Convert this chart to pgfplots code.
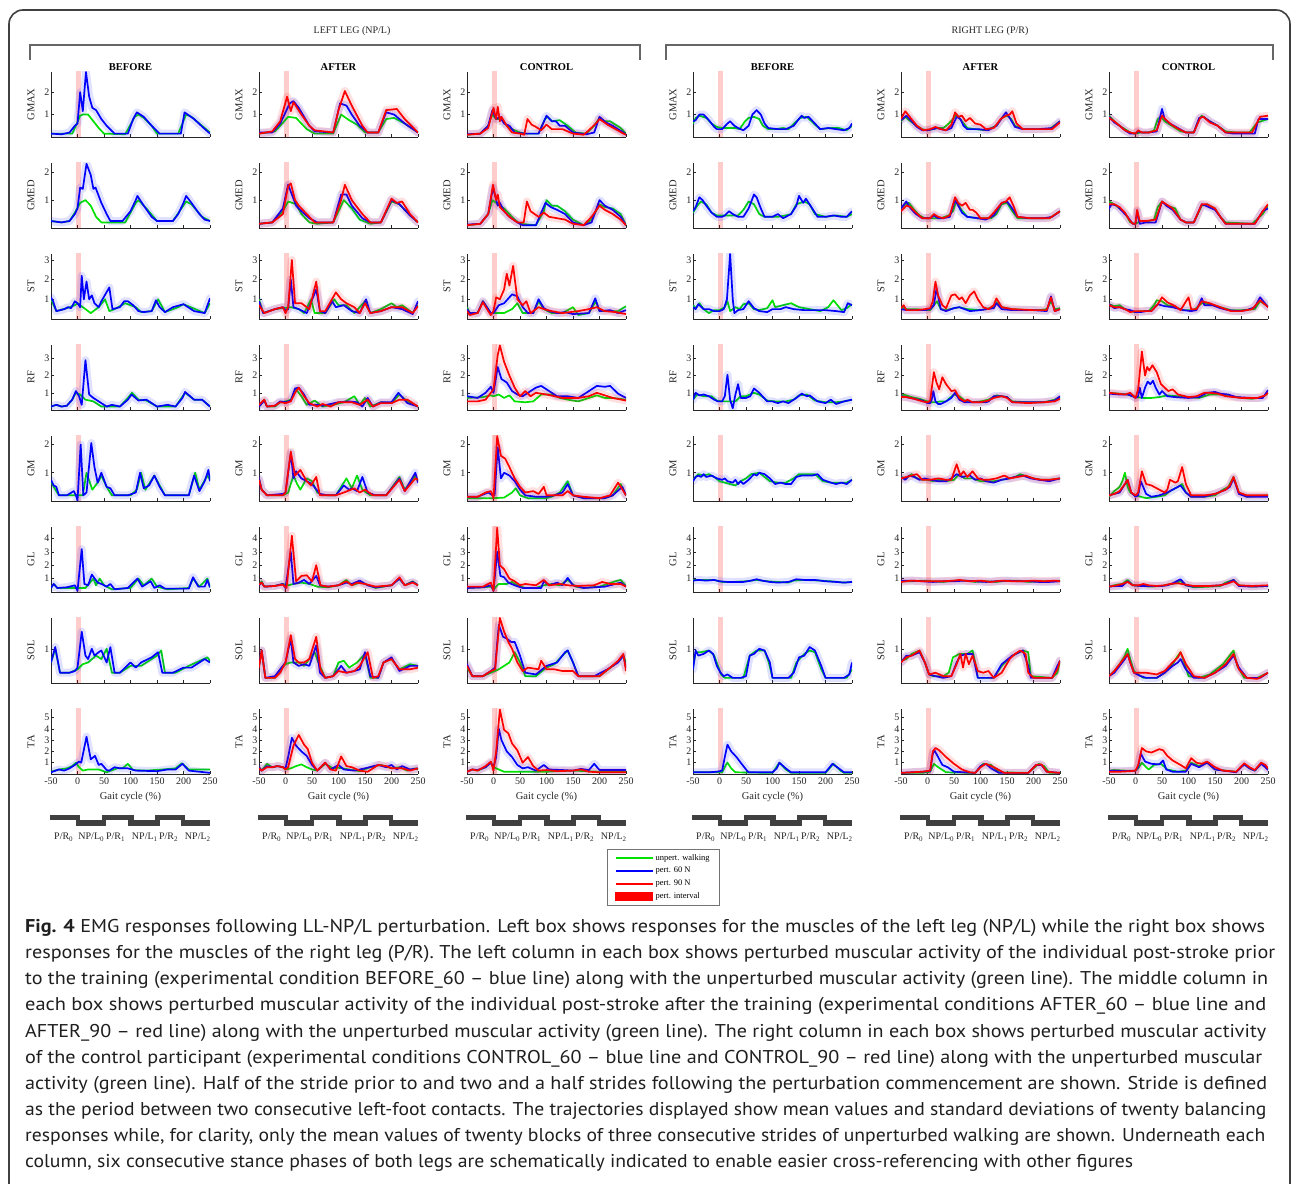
\documentclass[border=0pt]{standalone}
\usepackage{fontspec}
\setmainfont{Liberation Serif}
\newfontfamily\capfont{PT Sans}
\usepackage{graphicx}
\usepackage{pgfplots}
\pgfplotsset{compat=1.18}
\definecolor{cg}{RGB}{0,225,0}
\definecolor{cb}{RGB}{0,0,255}
\definecolor{cr}{RGB}{255,0,0}
\definecolor{axc}{RGB}{38,38,38}
\definecolor{barc}{RGB}{64,64,64}
\pgfplotsset{
  ln/.style={draw=#1, line width=1.7pt, line join=round},
  bd/.style={draw=#1, line width=8pt, draw opacity=0.12, line join=round, line cap=round},
  emg/.style={width=159pt, height=65pt, scale only axis, anchor=south west,
    xmin=-50, xmax=250, axis x line*=bottom, axis y line*=left,
    axis line style={-, line width=0.6pt, draw=axc},
    xtick={-50,0,...,250}, xticklabels={}, tick align=inside, major tick length=2.5pt,
    every tick/.style={axc, line width=0.5pt},
    /pgf/number format/assume math mode=true,
    tick label style={font=\fontsize{10}{10}\selectfont, text=axc},
    yticklabel style={inner sep=1.5pt},
    ylabel style={font=\fontsize{10.5}{11}\selectfont, text=axc, at={(axis description cs:-0.126,0.5)}, anchor=center},
    every axis title shift=0pt,
    title style={font=\bfseries\fontsize{10.5}{11}\selectfont, text=black, at={(0.5,1)}, anchor=south, inner sep=1.5pt, yshift=0pt},
    xlabel style={font=\fontsize{10.5}{11}\selectfont, text=axc, inner sep=1pt, yshift=-3pt},
    clip=true},
  rGMAX/.style={ymin=0,ymax=2.9,ytick={1,2},ylabel={GMAX}},
  rGMED/.style={ymin=0,ymax=2.33,ytick={1,2},ylabel={GMED}},
  rST/.style={ymin=0,ymax=3.3,ytick={1,2,3},ylabel={ST}},
  rRF/.style={ymin=0,ymax=3.78,ytick={1,2,3},ylabel={RF}},
  rGM/.style={ymin=0,ymax=2.3,ytick={1,2},ylabel={GM}},
  rGL/.style={ymin=0,ymax=4.85,ytick={1,2,3,4},ylabel={GL}},
  rSOL/.style={ymin=0,ymax=1.9,ytick={1},ylabel={SOL}},
  rTA/.style={ymin=0,ymax=5.75,ytick={1,2,3,4,5},ylabel={TA},
    xticklabels={-50,0,50,100,150,200,250}, xlabel={Gait cycle (\%)}},
  gait/.style={width=159pt, height=11pt, scale only axis, anchor=south west,
    xmin=-50, xmax=250, ymin=0, ymax=2, hide axis, clip=false},
}
\newcommand{\pert}{\addplot[fill=cr, fill opacity=0.2, draw=none] coordinates {(-2.5,-1)(7,-1)(7,10)(-2.5,10)};}
\newcommand{\Gs}[1]{\addplot[ln=cg] coordinates {#1};}
\newcommand{\Bs}[1]{\addplot[bd=cb] coordinates {#1};\addplot[ln=cb] coordinates {#1};}
\newcommand{\Rs}[1]{\addplot[bd=cr] coordinates {#1};\addplot[ln=cr] coordinates {#1};}
\newcommand{\gaitbars}{%
  \addplot[fill=barc, draw=none] coordinates {(-52,1)(5,1)(5,2)(-52,2)};
  \addplot[fill=barc, draw=none] coordinates {(46,1)(107,1)(107,2)(46,2)};
  \addplot[fill=barc, draw=none] coordinates {(146,1)(203,1)(203,2)(146,2)};
  \addplot[fill=barc, draw=none] coordinates {(-3,0)(54,0)(54,1)(-3,1)};
  \addplot[fill=barc, draw=none] coordinates {(95,0)(156,0)(156,1)(95,1)};
  \addplot[fill=barc, draw=none] coordinates {(195,0)(250,0)(250,1)(195,1)};
  \node[font=\fontsize{10}{10}\selectfont, text=axc] at (axis cs:-26,-2.0) {P/R\textsubscript{0}};
  \node[font=\fontsize{10}{10}\selectfont, text=axc] at (axis cs:26,-2.0) {NP/L\textsubscript{0}};
  \node[font=\fontsize{10}{10}\selectfont, text=axc] at (axis cs:72,-2.0) {P/R\textsubscript{1}};
  \node[font=\fontsize{10}{10}\selectfont, text=axc] at (axis cs:127,-2.0) {NP/L\textsubscript{1}};
  \node[font=\fontsize{10}{10}\selectfont, text=axc] at (axis cs:172,-2.0) {P/R\textsubscript{2}};
  \node[font=\fontsize{10}{10}\selectfont, text=axc] at (axis cs:227,-2.0) {NP/L\textsubscript{2}};
}
\newcommand{\capline}[3]{\node at (25pt,#1pt) {\resizebox{#2pt}{\height}{#3}};}
\begin{document}
\begin{tikzpicture}
\useasboundingbox (0pt,0pt) rectangle (1292pt,1183pt);
\fill[white] (0pt,0pt) rectangle (1292pt,1183pt);
\draw[line width=1.6pt, draw=black!75, rounded corners=14pt] (9pt,-20pt) -- (9pt,1173pt) -- (1290pt,1173pt) -- (1290pt,-20pt);
\node[font=\fontsize{10}{12}\selectfont, text=axc] at (352pt,1152pt) {LEFT LEG (NP/L)};
\node[font=\fontsize{10}{12}\selectfont, text=axc] at (990pt,1152pt) {RIGHT LEG (P/R)};
\draw[line width=1.2pt, draw=black!60] (30pt,1123pt) -- (30pt,1138pt) -- (640pt,1138pt) -- (640pt,1123pt);
\draw[line width=1.2pt, draw=black!60] (666pt,1123pt) -- (666pt,1138pt) -- (1273pt,1138pt) -- (1273pt,1123pt);

%================ COLUMN 1 : LEFT BEFORE
\begin{axis}[emg,rGMAX,at={(51pt,1046pt)},title={BEFORE}]
\pert
\Gs{(-50,0.15)(-10,0.15)(-3,0.5)(5,0.95)(10,1.0)(20,1.0)(25,0.85)(40,0.4)(50,0.15)(90,0.12)(108,0.9)(115,1.0)(125,0.85)(140,0.5)(150,0.15)(190,0.15)(205,1.0)(215,0.9)(235,0.5)(250,0.2)}
\Bs{(-50,0.15)(-30,0.12)(-15,0.2)(-5,0.5)(0,0.6)(5,2.0)(10,1.15)(16,2.9)(22,1.8)(28,1.3)(35,1.2)(45,0.8)(55,0.5)(70,0.15)(95,0.15)(105,0.8)(112,1.1)(125,0.9)(140,0.5)(155,0.15)(195,0.15)(202,1.1)(220,0.8)(238,0.4)(250,0.15)}
\end{axis}
\begin{axis}[emg,rGMED,at={(51pt,955pt)}]
\pert
\Gs{(-50,0.25)(-30,0.2)(-15,0.25)(-5,0.55)(5,0.9)(15,1.0)(25,0.8)(35,0.4)(45,0.2)(90,0.2)(110,0.9)(115,1.0)(130,0.7)(150,0.25)(180,0.25)(205,0.95)(215,0.85)(235,0.4)(250,0.25)}
\Bs{(-50,0.25)(-30,0.2)(-15,0.25)(-5,0.5)(0,0.7)(5,1.45)(10,1.4)(17,2.3)(25,1.9)(30,1.4)(34,1.45)(45,0.9)(55,0.5)(62,0.25)(85,0.25)(100,0.6)(110,1.0)(113,1.15)(125,0.8)(140,0.4)(150,0.25)(180,0.25)(190,0.5)(200,0.9)(205,1.15)(215,0.9)(230,0.5)(240,0.3)(250,0.25)}
\end{axis}
\begin{axis}[emg,rST,at={(51pt,864pt)}]
\pert
\Gs{(-50,1.0)(-40,0.4)(-20,0.55)(-5,0.7)(0,0.8)(15,0.5)(25,0.3)(40,0.6)(52,1.0)(60,0.4)(70,0.5)(90,0.8)(110,0.6)(120,0.35)(140,0.4)(152,1.0)(165,0.35)(190,0.6)(200,0.75)(240,0.3)(250,0.8)}
\Bs{(-50,1.1)(-46,0.9)(-40,0.4)(-25,0.5)(-18,0.6)(-12,0.55)(-5,0.9)(0,0.8)(5,0.6)(8,2.2)(12,1.0)(17,1.9)(22,1.0)(27,1.2)(32,0.8)(40,0.6)(45,0.9)(60,1.6)(66,0.5)(80,0.6)(88,0.9)(95,0.9)(105,0.7)(115,0.4)(125,0.35)(140,0.4)(148,0.95)(155,0.6)(165,0.35)(180,0.6)(200,0.75)(220,0.4)(240,0.3)(250,1.05)}
\end{axis}
\begin{axis}[emg,rRF,at={(51pt,773pt)}]
\pert
\Gs{(-50,0.2)(-40,0.3)(-30,0.2)(-20,0.25)(-10,0.6)(-3,1.0)(5,0.9)(15,0.6)(30,0.5)(45,0.2)(80,0.2)(95,0.7)(103,1.0)(115,0.6)(130,0.55)(150,0.2)(185,0.2)(203,1.0)(220,0.6)(235,0.6)(250,0.2)}
\Bs{(-50,0.2)(-40,0.3)(-30,0.2)(-20,0.25)(-10,0.6)(-3,1.1)(3,0.8)(8,0.3)(15,2.9)(22,0.9)(30,0.7)(40,0.5)(55,0.2)(65,0.3)(80,0.2)(95,0.6)(102,0.9)(115,0.55)(130,0.6)(150,0.2)(170,0.3)(185,0.2)(198,0.7)(203,1.05)(220,0.6)(235,0.6)(250,0.2)}
\end{axis}
\begin{axis}[emg,rGM,at={(51pt,682pt)}]
\pert
\Gs{(-50,0.7)(-45,0.5)(-35,0.2)(0,0.2)(10,0.2)(17,1.0)(28,0.4)(40,0.7)(45,0.9)(55,0.5)(65,0.2)(100,0.2)(112,0.4)(120,1.0)(128,0.4)(145,0.9)(165,0.2)(210,0.2)(222,1.0)(230,0.4)(245,0.9)(250,0.75)}
\Bs{(-50,0.75)(-45,0.55)(-40,0.5)(-35,0.2)(-20,0.2)(-7,0.35)(-3,0.2)(0,0.02)(6,2.0)(11,0.2)(17,0.3)(26,2.05)(32,1.2)(38,0.65)(45,1.0)(55,0.5)(62,0.45)(70,0.2)(95,0.2)(110,0.3)(118,1.0)(125,0.45)(135,0.55)(145,0.9)(155,0.5)(165,0.2)(210,0.2)(220,0.9)(230,0.35)(240,0.7)(247,1.1)(250,0.7)}
\end{axis}
\begin{axis}[emg,rGL,at={(51pt,591pt)}]
\pert
\Gs{(-50,0.3)(-45,0.6)(-38,0.3)(0,0.3)(15,0.3)(30,1.0)(35,0.5)(42,1.0)(50,0.5)(65,0.2)(100,0.3)(115,1.0)(125,0.5)(140,1.0)(150,0.4)(170,0.2)(210,0.3)(218,1.0)(230,0.4)(245,1.0)(250,0.35)}
\Bs{(-50,0.3)(-45,0.6)(-38,0.3)(-20,0.35)(-5,0.5)(0,0.1)(8,3.2)(13,0.6)(20,0.5)(27,1.3)(38,0.7)(45,0.6)(55,0.4)(62,0.6)(70,0.2)(95,0.3)(113,1.0)(122,0.4)(138,0.8)(145,0.3)(155,0.5)(165,0.25)(210,0.25)(218,1.1)(228,0.4)(240,0.4)(245,0.9)(250,0.35)}
\end{axis}
\begin{axis}[emg,rSOL,at={(51pt,500pt)}]
\pert
\Gs{(-50,0.6)(-42,1.0)(-33,0.3)(-15,0.3)(0,0.4)(10,0.55)(20,0.6)(35,0.8)(45,0.7)(55,1.0)(65,0.3)(80,0.3)(100,0.5)(120,0.5)(150,0.8)(158,0.95)(165,0.3)(185,0.3)(210,0.5)(245,0.75)(250,0.65)}
\Bs{(-50,0.6)(-42,1.05)(-33,0.3)(-15,0.3)(-5,0.35)(0,0.45)(8,1.5)(15,0.8)(20,0.7)(27,1.0)(32,0.8)(40,0.9)(45,0.95)(55,0.6)(62,1.05)(70,0.3)(80,0.3)(90,0.45)(100,0.6)(110,0.45)(120,0.6)(140,0.75)(152,0.9)(160,0.3)(180,0.3)(200,0.45)(215,0.45)(240,0.7)(250,0.6)}
\end{axis}
\begin{axis}[emg,rTA,at={(51pt,409pt)}]
\pert
\Gs{(-50,0.2)(-35,0.4)(-20,0.5)(-10,0.7)(-3,1.0)(3,0.6)(10,0.3)(20,0.4)(40,0.4)(55,0.15)(75,0.5)(85,0.5)(95,0.9)(105,0.35)(130,0.3)(160,0.4)(185,0.5)(197,0.95)(210,0.4)(250,0.4)}
\Bs{(-50,0.15)(-35,0.4)(-25,0.3)(-15,0.5)(-5,0.8)(3,1.1)(7,1.0)(17,3.3)(25,1.3)(33,1.6)(40,0.8)(45,0.9)(55,0.35)(60,0.3)(70,0.6)(80,0.5)(95,0.5)(110,0.3)(150,0.25)(170,0.4)(185,0.4)(198,0.9)(210,0.3)(230,0.2)(250,0.1)}
\end{axis}

%================ COLUMN 2 : LEFT AFTER
\begin{axis}[emg,rGMAX,at={(259pt,1046pt)},title={AFTER}]
\pert
\Gs{(-50,0.15)(-20,0.25)(-10,0.5)(5,0.9)(20,0.85)(30,0.6)(40,0.35)(55,0.15)(90,0.15)(105,1.0)(120,0.75)(135,0.55)(150,0.2)(175,0.2)(190,0.8)(205,0.85)(225,0.6)(250,0.2)}
\Bs{(-50,0.2)(-25,0.2)(-10,0.6)(2,1.2)(8,1.5)(15,1.6)(25,1.3)(35,0.9)(45,0.5)(55,0.25)(90,0.2)(103,1.5)(115,1.4)(125,1.0)(140,0.5)(155,0.2)(175,0.2)(190,1.1)(205,1.0)(225,0.6)(250,0.2)}
\Rs{(-50,0.15)(-25,0.25)(-10,0.7)(3,1.8)(10,1.15)(15,1.55)(30,1.0)(45,0.5)(55,0.3)(90,0.2)(100,1.2)(112,2.05)(125,1.4)(145,0.5)(155,0.2)(175,0.2)(190,1.2)(210,1.25)(225,0.8)(250,0.2)}
\end{axis}
\begin{axis}[emg,rGMED,at={(259pt,955pt)}]
\pert
\Gs{(-50,0.15)(-25,0.2)(-5,0.6)(5,0.95)(20,0.85)(30,0.5)(45,0.2)(60,0.15)(90,0.2)(110,1.0)(125,0.7)(140,0.3)(160,0.15)(180,0.2)(200,0.95)(215,0.85)(235,0.45)(250,0.2)}
\Bs{(-50,0.15)(-25,0.2)(-5,0.7)(5,1.55)(12,1.2)(20,0.8)(30,0.6)(45,0.35)(60,0.2)(90,0.2)(105,1.2)(115,1.2)(125,0.8)(145,0.35)(160,0.2)(180,0.2)(200,1.0)(215,0.85)(235,0.45)(250,0.2)}
\Rs{(-50,0.15)(-25,0.2)(-5,0.5)(5,1.5)(10,1.6)(18,1.0)(25,0.8)(40,0.5)(55,0.2)(90,0.2)(105,1.0)(112,1.55)(125,1.0)(145,0.5)(160,0.2)(180,0.2)(200,1.05)(210,0.9)(220,0.95)(235,0.5)(250,0.2)}
\end{axis}
\begin{axis}[emg,rST,at={(259pt,864pt)}]
\pert
\Gs{(-50,1.0)(-42,0.3)(-20,0.5)(-5,0.55)(10,0.6)(25,0.5)(35,0.3)(48,1.0)(55,0.3)(75,0.3)(92,1.0)(100,0.7)(115,0.7)(130,0.3)(150,0.9)(160,0.3)(180,0.5)(200,0.8)(210,0.6)(220,0.7)(240,0.3)(250,0.7)}
\Bs{(-50,0.9)(-42,0.3)(-20,0.5)(-5,0.6)(0,0.45)(5,0.5)(10,2.0)(15,0.6)(25,0.5)(40,0.3)(58,1.5)(65,0.4)(75,0.3)(88,0.9)(95,0.6)(110,0.7)(125,0.4)(140,0.3)(152,1.0)(160,0.3)(180,0.4)(200,0.6)(220,0.5)(240,0.25)(250,0.9)}
\Rs{(-50,0.7)(-40,0.3)(-20,0.5)(-5,0.6)(0,0.3)(5,0.6)(12,3.0)(18,0.8)(30,0.8)(45,0.5)(58,1.9)(65,0.4)(75,0.4)(95,1.35)(105,1.0)(115,0.8)(130,0.6)(140,0.3)(150,0.8)(160,0.3)(180,0.4)(200,0.6)(220,0.6)(240,0.3)(250,0.65)}
\end{axis}
\begin{axis}[emg,rRF,at={(259pt,773pt)}]
\pert
\Gs{(-50,0.2)(-40,0.6)(-35,0.2)(-20,0.2)(-10,0.45)(0,0.5)(10,0.6)(20,1.2)(30,0.8)(40,0.3)(55,0.55)(70,0.2)(90,0.3)(110,0.45)(130,0.8)(140,0.3)(150,0.7)(160,0.2)(180,0.45)(200,0.4)(215,0.9)(230,0.5)(250,0.2)}
\Bs{(-50,0.2)(-40,0.55)(-35,0.2)(-20,0.25)(-10,0.5)(0,0.45)(10,0.55)(18,1.25)(25,1.3)(35,0.9)(45,0.3)(60,0.3)(70,0.25)(100,0.45)(120,0.5)(135,0.45)(145,0.2)(155,0.7)(165,0.2)(180,0.45)(200,0.45)(213,1.0)(230,0.4)(250,0.2)}
\Rs{(-50,0.3)(-40,0.6)(-35,0.2)(-20,0.25)(-10,0.45)(0,0.4)(10,0.5)(18,1.0)(25,1.3)(35,0.8)(45,0.4)(60,0.2)(70,0.35)(85,0.2)(100,0.45)(125,0.45)(140,0.3)(155,0.6)(165,0.2)(180,0.4)(200,0.4)(215,0.6)(230,0.6)(250,0.2)}
\end{axis}
\begin{axis}[emg,rGM,at={(259pt,682pt)}]
\pert
\Gs{(-50,0.8)(-45,0.4)(-35,0.2)(-5,0.2)(5,0.3)(15,0.9)(22,0.6)(28,0.4)(40,0.8)(50,0.7)(60,0.3)(70,0.2)(95,0.2)(115,0.8)(125,0.45)(135,0.9)(145,0.4)(160,0.2)(190,0.2)(215,0.85)(225,0.4)(245,0.9)(250,0.7)}
\Bs{(-50,0.8)(-45,0.4)(-35,0.2)(-5,0.25)(0,0.3)(10,1.7)(15,0.8)(20,1.05)(30,0.8)(40,0.7)(50,0.6)(65,0.25)(80,0.2)(95,0.2)(110,0.55)(120,0.4)(125,0.45)(135,0.35)(145,0.85)(155,0.3)(170,0.2)(190,0.2)(215,0.8)(225,0.35)(245,1.0)(250,0.65)}
\Rs{(-50,0.75)(-45,0.4)(-35,0.2)(-5,0.2)(0,0.3)(10,1.75)(18,0.9)(28,1.1)(40,0.7)(48,0.55)(58,0.85)(65,0.2)(95,0.2)(110,0.3)(130,0.45)(140,0.3)(150,0.4)(165,0.2)(190,0.2)(215,0.75)(225,0.35)(245,0.8)(250,0.75)}
\end{axis}
\begin{axis}[emg,rGL,at={(259pt,591pt)}]
\pert
\Gs{(-50,0.5)(-45,0.8)(-40,0.4)(-20,0.45)(-5,0.6)(5,0.5)(15,0.6)(30,0.7)(45,0.6)(60,0.4)(80,0.35)(100,0.5)(115,0.9)(125,0.5)(140,0.7)(150,0.6)(170,0.3)(200,0.5)(215,1.0)(225,0.5)(240,0.8)(250,0.5)}
\Bs{(-50,0.5)(-45,0.7)(-40,0.4)(-20,0.45)(-5,0.6)(0,0.3)(10,3.0)(15,0.6)(25,0.7)(35,0.9)(45,0.6)(58,1.2)(65,0.5)(80,0.4)(100,0.5)(115,0.7)(125,0.6)(140,0.85)(155,0.5)(170,0.35)(200,0.5)(215,1.0)(225,0.5)(240,0.75)(250,0.5)}
\Rs{(-50,0.55)(-45,0.7)(-40,0.4)(-20,0.45)(-5,0.55)(2,0.3)(12,4.2)(20,0.8)(30,1.2)(40,1.25)(50,0.8)(58,2.0)(66,0.5)(80,0.4)(100,0.5)(115,0.8)(125,0.5)(135,0.7)(150,0.6)(170,0.4)(200,0.5)(215,1.1)(225,0.5)(240,0.7)(250,0.5)}
\end{axis}
\begin{axis}[emg,rSOL,at={(259pt,500pt)}]
\pert
\Gs{(-50,0.5)(-45,0.95)(-38,0.15)(-20,0.15)(-10,0.4)(0,0.55)(10,0.6)(25,0.6)(35,0.5)(45,0.7)(55,0.9)(62,0.6)(75,0.15)(90,0.2)(100,0.6)(110,0.65)(120,0.45)(135,0.6)(150,0.85)(160,0.15)(175,0.15)(185,0.6)(200,0.7)(215,0.4)(235,0.55)(250,0.5)}
\Bs{(-50,0.5)(-45,0.95)(-38,0.15)(-20,0.2)(-10,0.4)(0,0.6)(10,1.3)(15,0.6)(25,0.5)(35,0.55)(45,0.5)(58,1.1)(65,0.3)(75,0.15)(90,0.2)(105,0.5)(115,0.3)(130,0.35)(140,0.4)(150,0.9)(160,0.2)(175,0.15)(185,0.6)(200,0.75)(215,0.35)(235,0.5)(250,0.5)}
\Rs{(-50,0.45)(-45,0.95)(-38,0.15)(-20,0.15)(-10,0.3)(0,0.6)(10,1.4)(18,0.7)(25,0.6)(35,0.6)(45,0.7)(58,1.35)(66,0.4)(75,0.15)(90,0.2)(100,0.35)(115,0.3)(130,0.35)(140,0.5)(155,0.9)(165,0.15)(175,0.2)(185,0.6)(200,0.7)(215,0.4)(235,0.4)(250,0.45)}
\end{axis}
\begin{axis}[emg,rTA,at={(259pt,409pt)}]
\pert
\Gs{(-50,0.6)(-45,0.3)(-35,0.9)(-25,0.6)(-15,0.7)(-5,0.6)(0,0.4)(10,0.5)(20,0.7)(30,0.85)(40,0.6)(50,0.4)(60,0.3)(75,0.9)(90,0.5)(100,0.55)(120,0.4)(140,0.25)(160,0.6)(170,0.7)(180,0.8)(200,0.5)(215,0.6)(230,0.3)(245,0.5)(250,0.4)}
\Bs{(-50,0.6)(-45,0.3)(-35,0.7)(-25,0.6)(-15,0.7)(-5,0.6)(0,0.5)(5,1.5)(12,3.2)(20,2.5)(30,2.0)(40,1.6)(50,0.8)(60,0.3)(75,1.0)(85,0.4)(100,0.8)(110,0.4)(130,0.3)(150,0.5)(175,0.8)(190,0.6)(200,0.8)(210,0.4)(220,0.7)(235,0.4)(250,0.5)}
\Rs{(-50,0.5)(-45,0.3)(-35,0.6)(-25,0.6)(-15,0.7)(-5,0.6)(0,0.4)(5,0.6)(15,2.5)(25,3.45)(35,2.6)(42,2.2)(50,1.0)(60,0.3)(75,1.0)(85,0.4)(95,0.3)(105,1.55)(115,0.7)(125,0.6)(140,0.3)(155,0.2)(175,0.8)(190,0.7)(200,0.5)(220,0.5)(235,0.3)(250,0.5)}
\end{axis}

%================ COLUMN 3 : LEFT CONTROL
\begin{axis}[emg,rGMAX,at={(467pt,1046pt)},title={CONTROL}]
\pert
\Gs{(-50,0.1)(-25,0.15)(-10,0.5)(-3,1.0)(5,0.8)(15,0.8)(25,0.5)(35,0.35)(50,0.2)(60,0.15)(85,0.15)(97,0.8)(102,0.9)(110,0.7)(125,0.75)(140,0.5)(155,0.2)(175,0.15)(190,0.5)(200,0.85)(210,0.7)(220,0.7)(240,0.4)(250,0.15)}
\Bs{(-50,0.12)(-25,0.15)(-10,0.5)(-2,1.2)(5,0.8)(12,0.9)(20,0.6)(30,0.5)(40,0.2)(60,0.15)(85,0.15)(100,0.95)(110,0.7)(118,0.7)(125,0.5)(135,0.5)(150,0.2)(175,0.12)(190,0.2)(200,0.9)(212,0.65)(225,0.5)(245,0.2)(250,0.1)}
\Rs{(-50,0.1)(-25,0.15)(-10,0.4)(0,1.3)(5,0.8)(8,1.35)(12,0.7)(15,0.9)(25,0.5)(35,0.2)(50,0.15)(58,0.1)(64,0.8)(72,0.55)(80,0.45)(90,0.3)(100,0.55)(110,0.35)(130,0.35)(150,0.15)(170,0.1)(180,0.3)(195,0.65)(200,0.8)(215,0.55)(230,0.35)(245,0.15)(250,0.1)}
\end{axis}
\begin{axis}[emg,rGMED,at={(467pt,955pt)}]
\pert
\Gs{(-50,0.1)(-25,0.15)(-10,0.5)(-2,1.0)(5,0.9)(12,0.8)(20,0.7)(30,0.5)(40,0.3)(50,0.15)(80,0.1)(95,0.6)(100,1.0)(110,0.8)(120,0.8)(135,0.6)(150,0.3)(170,0.1)(185,0.3)(200,0.85)(210,0.75)(225,0.7)(240,0.5)(250,0.1)}
\Bs{(-50,0.12)(-25,0.15)(-10,0.5)(-1,1.45)(8,0.8)(12,0.9)(20,0.6)(30,0.4)(45,0.2)(55,0.1)(80,0.1)(98,0.9)(108,0.75)(120,0.65)(135,0.5)(150,0.2)(170,0.1)(185,0.2)(200,1.0)(210,0.8)(225,0.65)(240,0.4)(250,0.1)}
\Rs{(-50,0.1)(-25,0.15)(-10,0.5)(-1,1.55)(5,1.0)(8,1.2)(12,0.75)(20,0.6)(30,0.4)(45,0.2)(57,0.2)(63,0.95)(70,0.6)(85,0.4)(95,0.55)(105,0.4)(120,0.35)(135,0.3)(150,0.15)(170,0.1)(185,0.4)(200,0.8)(210,0.65)(225,0.5)(240,0.3)(250,0.1)}
\end{axis}
\begin{axis}[emg,rST,at={(467pt,864pt)}]
\pert
\Gs{(-50,0.6)(-45,0.3)(-30,0.3)(-20,0.9)(-10,0.5)(-5,0.3)(20,0.3)(35,0.5)(45,0.8)(55,0.3)(75,0.3)(85,0.9)(95,0.5)(110,0.3)(130,0.3)(140,0.45)(150,0.6)(160,0.2)(180,0.3)(193,0.9)(200,0.4)(215,0.4)(235,0.4)(250,0.65)}
\Bs{(-50,0.5)(-45,0.3)(-30,0.3)(-20,0.9)(-10,0.5)(-5,0.3)(0,0.3)(10,0.7)(20,0.8)(30,1.1)(35,1.25)(45,1.15)(55,0.6)(65,0.3)(75,0.3)(85,1.0)(95,0.55)(105,0.4)(120,0.3)(135,0.35)(150,0.25)(180,0.3)(192,1.05)(200,0.4)(220,0.45)(235,0.3)(250,0.45)}
\Rs{(-50,0.4)(-45,0.2)(-30,0.3)(-20,0.85)(-10,0.4)(-5,0.2)(0,0.4)(5,1.1)(12,1.0)(20,1.5)(25,2.3)(30,1.7)(37,2.7)(45,1.0)(55,0.7)(62,0.9)(70,0.3)(85,0.6)(95,0.5)(110,0.4)(130,0.3)(160,0.4)(180,0.5)(195,0.6)(210,0.4)(230,0.35)(250,0.25)}
\end{axis}
\begin{axis}[emg,rRF,at={(467pt,773pt)}]
\pert
\Gs{(-50,0.7)(-20,0.75)(-5,0.85)(0,0.8)(10,0.9)(20,0.7)(30,0.85)(40,0.5)(60,0.45)(75,0.5)(90,0.9)(110,0.9)(125,0.7)(140,0.6)(160,0.5)(180,0.7)(195,0.85)(210,0.7)(225,0.7)(250,0.6)}
\Bs{(-50,0.8)(-30,0.7)(-15,1.0)(-5,1.35)(0,1.0)(8,2.5)(15,1.8)(25,1.6)(35,1.1)(45,0.9)(55,0.8)(65,1.0)(80,1.3)(90,1.4)(100,1.2)(110,1.0)(120,0.8)(140,0.8)(160,0.7)(180,1.1)(195,1.4)(210,1.35)(220,1.4)(235,0.95)(250,0.7)}
\Rs{(-50,0.5)(-30,0.5)(-15,0.6)(-5,1.0)(0,1.2)(8,3.2)(12,3.75)(20,2.8)(30,2.0)(40,1.3)(50,0.8)(60,1.1)(70,0.8)(80,1.0)(100,0.9)(115,0.8)(130,0.7)(160,0.7)(180,0.8)(195,1.0)(210,0.85)(225,0.7)(250,0.55)}
\end{axis}
\begin{axis}[emg,rGM,at={(467pt,682pt)}]
\pert
\Gs{(-50,0.1)(-20,0.1)(0,0.1)(20,0.12)(35,0.3)(42,0.45)(50,0.2)(65,0.1)(100,0.1)(110,0.15)(125,0.3)(140,0.7)(150,0.2)(170,0.1)(210,0.1)(225,0.2)(240,0.6)(250,0.2)}
\Bs{(-50,0.15)(-30,0.15)(-10,0.3)(-2,0.2)(2,0.2)(8,1.9)(14,0.8)(20,1.0)(30,0.9)(40,0.7)(50,0.4)(60,0.2)(80,0.15)(100,0.15)(115,0.2)(130,0.3)(140,0.6)(150,0.2)(170,0.1)(210,0.1)(225,0.2)(243,0.5)(250,0.2)}
\Rs{(-50,0.15)(-30,0.15)(-15,0.3)(-5,0.35)(0,0.1)(7,2.3)(14,1.6)(22,1.5)(30,1.2)(40,0.8)(50,0.5)(60,0.3)(75,0.35)(85,0.25)(95,0.5)(100,0.2)(115,0.2)(130,0.2)(140,0.35)(150,0.2)(170,0.15)(200,0.1)(220,0.2)(235,0.65)(250,0.2)}
\end{axis}
\begin{axis}[emg,rGL,at={(467pt,591pt)}]
\pert
\Gs{(-50,0.3)(-20,0.35)(-5,0.4)(0,0.2)(5,0.4)(10,0.6)(25,0.6)(35,0.75)(45,0.5)(60,0.3)(80,0.3)(95,0.5)(110,0.6)(125,0.5)(140,0.9)(155,0.4)(170,0.3)(200,0.4)(230,0.8)(240,0.9)(250,0.45)}
\Bs{(-50,0.3)(-20,0.35)(-5,0.5)(0,0.1)(7,3.0)(13,1.2)(20,1.1)(28,0.7)(40,0.5)(55,0.3)(90,0.3)(95,0.8)(105,0.5)(120,0.7)(130,0.5)(140,1.05)(150,0.5)(170,0.3)(210,0.4)(230,0.6)(240,0.7)(250,0.4)}
\Rs{(-50,0.4)(-20,0.4)(-5,0.7)(0,0.1)(7,4.8)(12,2.0)(20,1.7)(30,1.0)(40,0.8)(50,0.5)(60,0.6)(80,0.5)(95,0.9)(105,0.5)(125,0.6)(140,0.5)(160,0.45)(190,0.5)(205,0.75)(220,0.6)(240,0.6)(250,0.4)}
\end{axis}
\begin{axis}[emg,rSOL,at={(467pt,500pt)}]
\pert
\Gs{(-50,0.45)(-40,0.2)(-20,0.2)(-5,0.3)(10,0.4)(20,0.5)(30,0.6)(40,0.9)(50,0.6)(60,0.2)(80,0.2)(100,0.45)(115,0.55)(130,0.8)(140,0.95)(150,0.6)(160,0.2)(200,0.2)(225,0.5)(240,0.7)(245,0.8)(250,0.6)}
\Bs{(-50,0.55)(-40,0.2)(-20,0.2)(-5,0.35)(3,0.45)(10,1.7)(18,1.35)(25,1.3)(33,1.2)(40,1.2)(50,0.8)(60,0.3)(80,0.25)(100,0.5)(120,0.6)(135,0.9)(140,0.95)(150,0.6)(160,0.2)(190,0.2)(215,0.4)(235,0.6)(245,0.8)(250,0.45)}
\Rs{(-50,0.5)(-40,0.2)(-20,0.2)(-5,0.35)(3,0.4)(12,1.9)(20,1.5)(28,1.2)(35,1.0)(45,0.6)(55,0.35)(65,0.45)(85,0.4)(90,0.65)(100,0.4)(115,0.4)(130,0.35)(150,0.35)(160,0.2)(200,0.2)(220,0.45)(235,0.65)(245,0.85)(250,0.35)}
\end{axis}
\begin{axis}[emg,rTA,at={(467pt,409pt)}]
\pert
\Gs{(-50,0.2)(-40,0.4)(-30,0.3)(-15,0.6)(-5,1.0)(0,0.6)(5,0.5)(20,0.2)(50,0.2)(100,0.2)(150,0.3)(200,0.2)(250,0.2)}
\Bs{(-50,0.2)(-40,0.4)(-30,0.35)(-15,0.6)(-5,1.0)(0,0.6)(5,1.5)(10,4.0)(15,3.0)(25,2.0)(35,1.5)(45,0.8)(55,0.5)(65,0.6)(80,0.3)(95,0.8)(105,0.4)(130,0.35)(150,0.3)(165,0.45)(180,0.35)(190,0.9)(200,0.35)(250,0.35)}
\Rs{(-50,0.2)(-40,0.4)(-30,0.3)(-15,0.7)(-5,1.1)(0,0.3)(5,2.0)(12,5.7)(20,3.9)(28,3.6)(35,2.7)(45,2.1)(55,1.0)(65,1.5)(75,0.7)(85,0.3)(100,0.35)(120,0.25)(150,0.3)(165,0.4)(180,0.2)(200,0.15)(250,0.15)}
\end{axis}

%================ COLUMN 4 : RIGHT BEFORE
\begin{axis}[emg,rGMAX,at={(693pt,1046pt)},title={BEFORE}]
\pert
\Gs{(-50,0.6)(-45,0.85)(-38,0.95)(-25,0.85)(-15,0.6)(-5,0.45)(5,0.4)(20,0.4)(30,0.4)(38,0.35)(48,0.7)(55,0.85)(65,0.9)(75,0.8)(82,0.5)(92,0.35)(105,0.35)(120,0.4)(130,0.35)(145,0.7)(152,0.85)(165,0.9)(180,0.55)(190,0.35)(210,0.4)(225,0.4)(240,0.3)(250,0.5)}
\Bs{(-50,0.7)(-45,0.75)(-38,1.0)(-30,1.0)(-20,0.75)(-10,0.45)(-5,0.35)(5,0.35)(15,0.6)(20,0.7)(28,0.5)(35,0.4)(45,0.3)(55,0.5)(62,1.0)(70,1.2)(78,1.0)(85,0.6)(92,0.4)(110,0.35)(125,0.35)(140,0.5)(148,0.75)(155,0.95)(160,0.85)(168,0.9)(180,0.6)(190,0.35)(205,0.4)(220,0.35)(235,0.3)(245,0.4)(250,0.6)}
\end{axis}
\begin{axis}[emg,rGMED,at={(693pt,955pt)}]
\pert
\Gs{(-50,0.55)(-42,0.8)(-35,0.95)(-25,0.85)(-15,0.55)(-5,0.45)(5,0.45)(25,0.45)(35,0.45)(45,0.65)(55,0.95)(65,0.85)(75,0.5)(85,0.4)(110,0.4)(125,0.45)(135,0.5)(145,0.85)(160,0.95)(170,0.85)(180,0.5)(200,0.4)(220,0.45)(240,0.4)(250,0.5)}
\Bs{(-50,0.6)(-45,0.75)(-38,1.1)(-32,1.0)(-25,0.8)(-15,0.55)(-5,0.4)(5,0.4)(10,0.45)(18,0.6)(25,0.5)(35,0.4)(45,0.4)(55,0.7)(65,1.2)(70,1.1)(78,0.7)(85,0.4)(100,0.4)(110,0.5)(120,0.35)(135,0.5)(145,0.8)(150,1.15)(158,0.9)(163,1.05)(175,0.7)(185,0.4)(200,0.4)(215,0.45)(230,0.4)(240,0.4)(250,0.6)}
\end{axis}
\begin{axis}[emg,rST,at={(693pt,864pt)}]
\pert
\Gs{(-50,0.7)(-45,0.55)(-38,0.8)(-30,0.5)(-20,0.3)(-10,0.45)(0,0.45)(10,0.6)(15,0.9)(20,0.4)(30,0.6)(38,0.5)(45,0.75)(55,0.8)(65,0.5)(75,0.45)(90,0.55)(100,0.95)(105,0.6)(120,0.7)(135,0.8)(150,0.6)(170,0.5)(190,0.4)(205,0.6)(215,0.95)(230,0.45)(240,0.55)(250,0.75)}
\Bs{(-50,0.6)(-45,0.5)(-40,0.75)(-30,0.5)(-20,0.5)(-10,0.4)(0,0.4)(8,0.5)(14,1.0)(20,3.3)(25,1.0)(28,0.3)(35,0.45)(45,0.5)(55,0.9)(65,0.55)(75,0.4)(90,0.35)(100,0.5)(115,0.5)(125,0.6)(140,0.5)(160,0.45)(180,0.45)(200,0.45)(220,0.4)(235,0.35)(242,0.8)(250,0.7)}
\end{axis}
\begin{axis}[emg,rRF,at={(693pt,773pt)}]
\pert
\Gs{(-50,0.6)(-42,0.9)(-30,0.8)(-15,0.8)(-5,0.55)(5,0.5)(20,0.5)(30,0.5)(40,0.8)(50,0.8)(65,1.0)(75,0.9)(90,0.55)(105,0.5)(125,0.5)(140,0.6)(150,0.85)(165,0.9)(180,0.55)(200,0.45)(220,0.45)(235,0.5)(250,0.6)}
\Bs{(-50,0.6)(-45,1.0)(-38,0.85)(-30,0.9)(-20,0.8)(-10,0.6)(-3,0.5)(5,0.5)(10,0.8)(15,2.05)(20,0.6)(25,0.1)(30,0.9)(35,1.5)(40,0.7)(50,0.7)(58,0.8)(65,1.25)(75,1.0)(90,0.5)(100,0.5)(110,0.4)(120,0.5)(130,0.4)(145,0.7)(155,0.95)(165,0.8)(170,0.85)(185,0.5)(200,0.4)(210,0.6)(220,0.35)(235,0.5)(250,0.6)}
\end{axis}
\begin{axis}[emg,rGM,at={(693pt,682pt)}]
\pert
\Gs{(-50,0.75)(-40,0.95)(-30,0.9)(-20,0.95)(-10,0.85)(0,0.7)(10,0.65)(20,0.6)(30,0.55)(40,0.7)(50,0.8)(60,0.95)(75,1.0)(85,0.85)(95,0.7)(110,0.65)(125,0.65)(140,0.8)(150,0.95)(165,0.95)(180,0.95)(195,0.7)(210,0.65)(225,0.65)(240,0.65)(250,0.75)}
\Bs{(-50,0.7)(-45,0.85)(-40,0.9)(-35,0.85)(-30,0.95)(-25,0.85)(-15,0.9)(-5,0.8)(5,0.75)(10,0.8)(15,0.7)(25,0.65)(30,0.75)(35,0.6)(40,0.7)(45,0.6)(55,0.75)(65,0.95)(70,0.9)(75,1.0)(85,0.95)(95,0.8)(105,0.6)(115,0.65)(125,0.6)(135,0.6)(145,0.85)(155,0.9)(175,0.9)(185,0.95)(195,0.75)(210,0.65)(220,0.6)(230,0.65)(240,0.6)(250,0.75)}
\end{axis}
\begin{axis}[emg,rGL,at={(693pt,591pt)}]
\pert
\Gs{(-50,0.9)(-30,0.9)(-10,0.9)(5,0.75)(25,0.75)(50,0.8)(70,0.9)(90,0.8)(110,0.75)(130,0.7)(140,0.85)(160,0.9)(190,0.85)(210,0.8)(235,0.7)(250,0.75)}
\Bs{(-50,0.85)(-40,0.9)(-25,0.85)(-10,0.9)(0,0.8)(15,0.75)(30,0.75)(45,0.75)(60,0.85)(70,0.95)(80,0.85)(95,0.75)(110,0.7)(130,0.75)(145,0.95)(160,0.9)(180,0.9)(200,0.8)(220,0.75)(235,0.7)(250,0.75)}
\end{axis}
\begin{axis}[emg,rSOL,at={(693pt,500pt)}]
\pert
\Gs{(-50,0.45)(-45,0.9)(-35,0.9)(-20,0.95)(-10,0.8)(-3,0.5)(3,0.25)(10,0.15)(45,0.15)(57,0.8)(70,0.95)(85,0.95)(93,0.6)(100,0.15)(135,0.15)(145,0.6)(160,0.85)(170,0.95)(180,0.9)(192,0.4)(200,0.15)(240,0.15)(250,0.4)}
\Bs{(-50,0.4)(-45,0.95)(-40,0.8)(-30,0.85)(-20,0.95)(-12,0.85)(-5,0.5)(2,0.3)(8,0.2)(15,0.25)(25,0.15)(40,0.15)(50,0.2)(57,0.8)(65,0.85)(75,1.0)(85,0.95)(95,0.6)(100,0.15)(130,0.15)(140,0.3)(150,0.75)(160,0.8)(170,1.05)(180,0.95)(192,0.5)(200,0.15)(235,0.15)(245,0.25)(250,0.6)}
\end{axis}
\begin{axis}[emg,rTA,at={(693pt,409pt)}]
\pert
\Gs{(-50,0.15)(5,0.15)(12,0.8)(15,1.0)(22,0.5)(30,0.15)(100,0.1)(113,1.0)(125,0.4)(135,0.1)(200,0.1)(215,0.9)(228,0.3)(235,0.1)(250,0.1)}
\Bs{(-50,0.15)(-20,0.15)(-5,0.2)(5,0.3)(10,1.5)(15,2.6)(22,2.0)(32,1.5)(40,1.0)(50,0.4)(55,0.15)(100,0.15)(108,0.5)(113,1.0)(125,0.5)(135,0.15)(200,0.15)(208,0.6)(213,0.9)(225,0.5)(235,0.15)(250,0.15)}
\end{axis}

%================ COLUMN 5 : RIGHT AFTER
\begin{axis}[emg,rGMAX,at={(901pt,1046pt)},title={AFTER}]
\pert
\Gs{(-50,0.7)(-42,0.9)(-35,0.75)(-20,0.5)(-10,0.35)(0,0.3)(10,0.35)(20,0.4)(30,0.4)(40,0.6)(48,0.8)(55,1.0)(65,0.7)(75,0.4)(90,0.35)(110,0.3)(130,0.5)(140,0.85)(150,0.95)(158,0.8)(165,0.5)(180,0.35)(200,0.35)(230,0.35)(250,0.7)}
\Bs{(-50,0.75)(-40,0.95)(-32,0.75)(-20,0.45)(-10,0.3)(0,0.3)(10,0.35)(18,0.4)(25,0.35)(35,0.3)(45,0.4)(55,0.9)(62,0.8)(68,0.5)(75,0.35)(95,0.35)(115,0.3)(130,0.5)(142,0.9)(148,1.1)(155,0.85)(165,0.45)(180,0.35)(210,0.35)(235,0.4)(250,0.7)}
\Rs{(-50,0.8)(-42,1.15)(-32,0.85)(-20,0.5)(-8,0.3)(5,0.35)(15,0.45)(25,0.35)(35,0.3)(45,0.55)(52,1.1)(58,0.9)(65,0.95)(72,0.7)(80,0.85)(90,0.6)(100,0.55)(110,0.35)(125,0.4)(138,0.8)(148,0.95)(155,1.0)(160,1.15)(168,0.6)(180,0.35)(210,0.35)(235,0.35)(250,0.65)}
\end{axis}
\begin{axis}[emg,rGMED,at={(901pt,955pt)}]
\pert
\Gs{(-50,0.7)(-42,0.85)(-35,0.9)(-25,0.65)(-15,0.45)(-5,0.35)(10,0.35)(25,0.35)(40,0.45)(48,0.6)(55,1.0)(62,0.7)(75,0.4)(95,0.35)(120,0.35)(130,0.5)(140,0.85)(150,0.9)(160,0.6)(170,0.35)(200,0.35)(230,0.35)(250,0.6)}
\Bs{(-50,0.7)(-40,0.95)(-32,0.7)(-22,0.5)(-10,0.35)(5,0.35)(12,0.45)(20,0.35)(30,0.35)(42,0.4)(52,1.0)(58,0.8)(65,0.55)(75,0.4)(95,0.35)(110,0.3)(125,0.45)(140,0.9)(150,0.95)(158,0.75)(170,0.4)(190,0.35)(220,0.35)(235,0.4)(250,0.6)}
\Rs{(-50,0.6)(-40,0.8)(-32,0.75)(-22,0.55)(-10,0.35)(5,0.35)(12,0.5)(20,0.4)(30,0.35)(42,0.45)(52,1.1)(58,0.9)(65,0.8)(72,0.9)(80,0.65)(85,0.65)(92,0.55)(100,0.35)(115,0.35)(125,0.55)(140,0.9)(148,0.95)(155,1.1)(162,0.8)(170,0.4)(195,0.35)(230,0.35)(250,0.6)}
\end{axis}
\begin{axis}[emg,rST,at={(901pt,864pt)}]
\pert
\Gs{(-50,0.6)(-40,0.5)(-20,0.5)(-5,0.45)(5,0.45)(12,0.7)(18,0.9)(25,0.5)(35,0.45)(50,0.55)(60,0.6)(75,0.5)(100,0.45)(125,0.6)(130,0.85)(140,0.6)(160,0.5)(190,0.45)(210,0.45)(225,0.5)(233,0.9)(240,0.5)(250,0.55)}
\Bs{(-50,0.5)(-40,0.45)(-20,0.45)(-5,0.45)(5,0.5)(12,0.7)(17,1.55)(25,0.5)(35,0.4)(50,0.55)(60,0.6)(70,0.5)(80,0.4)(100,0.45)(125,0.55)(130,0.8)(140,0.5)(160,0.45)(200,0.45)(225,0.4)(233,1.15)(240,0.4)(250,0.5)}
\Rs{(-50,0.55)(-45,0.7)(-40,0.45)(-20,0.45)(-5,0.5)(5,0.55)(10,0.9)(15,1.9)(20,1.2)(28,0.7)(35,0.55)(45,1.2)(52,1.25)(60,1.0)(65,1.1)(72,0.8)(80,1.2)(88,1.4)(95,1.0)(105,0.6)(115,0.5)(125,0.7)(130,1.05)(140,0.6)(160,0.5)(200,0.45)(225,0.45)(233,1.1)(240,0.4)(250,0.5)}
\end{axis}
\begin{axis}[emg,rRF,at={(901pt,773pt)}]
\pert
\Gs{(-50,0.8)(-45,0.9)(-30,0.75)(-15,0.65)(-5,0.55)(5,0.45)(15,0.45)(25,0.5)(35,0.5)(42,0.7)(50,0.9)(60,0.8)(70,0.55)(85,0.45)(100,0.5)(115,0.6)(130,0.85)(140,0.8)(150,0.75)(160,0.5)(190,0.45)(220,0.45)(240,0.6)(250,0.75)}
\Bs{(-50,0.8)(-40,0.75)(-25,0.65)(-10,0.55)(0,0.4)(5,0.4)(8,0.6)(11,1.1)(15,0.5)(20,0.35)(25,0.35)(35,0.5)(45,0.7)(52,1.0)(60,0.6)(70,0.45)(90,0.45)(110,0.45)(115,0.5)(125,0.8)(140,0.8)(150,0.75)(160,0.45)(190,0.45)(220,0.45)(240,0.55)(250,0.8)}
\Rs{(-50,0.75)(-40,0.75)(-25,0.65)(-10,0.5)(0,0.45)(5,0.55)(12,2.2)(17,1.6)(22,1.2)(28,1.9)(35,1.5)(45,1.1)(52,1.15)(60,0.7)(70,0.5)(75,0.6)(85,0.45)(100,0.45)(115,0.55)(125,0.7)(140,0.8)(150,0.7)(160,0.45)(190,0.4)(220,0.45)(240,0.5)(250,0.65)}
\end{axis}
\begin{axis}[emg,rGM,at={(901pt,682pt)}]
\pert
\Gs{(-50,0.85)(-40,0.8)(-30,0.95)(-20,0.8)(-10,0.75)(0,0.75)(10,0.7)(20,0.75)(35,0.7)(50,0.75)(60,0.95)(70,0.8)(85,0.8)(100,0.7)(110,0.7)(125,0.7)(140,0.75)(155,0.8)(165,0.85)(175,0.95)(190,0.85)(200,0.8)(215,0.75)(230,0.75)(250,0.8)}
\Bs{(-50,0.85)(-42,0.75)(-35,0.9)(-25,0.85)(-15,0.75)(-5,0.8)(5,0.75)(20,0.7)(35,0.7)(45,0.8)(55,0.95)(65,0.85)(80,0.9)(90,0.75)(100,0.8)(110,0.7)(125,0.65)(140,0.75)(155,0.8)(165,0.85)(180,0.9)(195,0.8)(210,0.75)(230,0.7)(250,0.8)}
\Rs{(-50,0.8)(-40,0.85)(-30,0.9)(-20,0.95)(-10,0.75)(5,0.75)(20,0.8)(35,0.75)(45,0.75)(55,1.3)(62,0.9)(68,1.05)(75,0.85)(85,1.05)(95,0.8)(105,0.75)(115,0.75)(130,0.8)(145,0.9)(155,0.8)(170,0.85)(185,0.9)(200,0.8)(215,0.75)(230,0.75)(250,0.8)}
\end{axis}
\begin{axis}[emg,rGL,at={(901pt,591pt)}]
\pert
\Gs{(-50,0.8)(-30,0.8)(-10,0.85)(10,0.8)(30,0.75)(50,0.85)(70,0.85)(90,0.75)(110,0.8)(130,0.75)(150,0.85)(170,0.85)(190,0.75)(210,0.8)(230,0.8)(250,0.85)}
\Bs{(-50,0.85)(-30,0.85)(-10,0.8)(10,0.75)(30,0.8)(50,0.8)(70,0.85)(90,0.8)(110,0.75)(130,0.8)(150,0.85)(170,0.8)(190,0.8)(210,0.75)(230,0.75)(250,0.8)}
\Rs{(-50,0.75)(-30,0.85)(-10,0.8)(10,0.8)(30,0.8)(50,0.85)(60,0.9)(80,0.8)(100,0.85)(120,0.75)(140,0.85)(160,0.8)(180,0.8)(200,0.85)(220,0.8)(240,0.85)(250,0.8)}
\end{axis}
\begin{axis}[emg,rSOL,at={(901pt,500pt)}]
\pert
\Gs{(-50,0.65)(-40,0.7)(-30,0.85)(-15,0.95)(-5,0.6)(3,0.25)(10,0.2)(30,0.2)(40,0.3)(48,0.75)(60,0.85)(75,0.85)(85,0.95)(90,0.6)(95,0.15)(125,0.15)(140,0.5)(160,0.8)(180,0.95)(190,0.9)(195,0.2)(235,0.15)(245,0.3)(250,0.65)}
\Bs{(-50,0.6)(-40,0.8)(-30,0.8)(-15,0.9)(-5,0.6)(3,0.25)(15,0.2)(30,0.15)(45,0.2)(55,0.6)(62,0.8)(75,0.85)(85,0.85)(95,0.15)(125,0.15)(140,0.55)(160,0.8)(180,0.95)(190,0.5)(195,0.15)(235,0.15)(245,0.5)(250,0.65)}
\Rs{(-50,0.6)(-40,0.75)(-30,0.8)(-15,0.95)(-5,0.6)(3,0.25)(15,0.3)(30,0.2)(45,0.2)(55,0.55)(62,0.85)(67,0.45)(72,0.85)(78,0.55)(85,0.8)(95,0.35)(105,0.3)(115,0.35)(125,0.15)(140,0.3)(155,0.7)(165,0.85)(175,0.95)(185,0.85)(190,0.3)(200,0.15)(235,0.15)(245,0.4)(250,0.65)}
\end{axis}
\begin{axis}[emg,rTA,at={(901pt,409pt)}]
\pert
\Gs{(-50,0.1)(-10,0.1)(5,0.2)(12,0.9)(20,0.6)(35,0.15)(90,0.1)(105,0.9)(120,0.8)(135,0.15)(190,0.1)(210,0.9)(220,0.7)(230,0.1)(250,0.1)}
\Bs{(-50,0.1)(-10,0.2)(5,0.25)(10,1.8)(13,2.1)(20,1.5)(28,0.8)(38,0.6)(50,0.2)(90,0.1)(100,0.7)(110,0.9)(120,0.5)(135,0.1)(190,0.1)(205,0.8)(215,0.8)(225,0.2)(250,0.1)}
\Rs{(-50,0.1)(-10,0.2)(5,0.3)(10,2.0)(15,2.3)(22,2.1)(35,1.5)(50,0.9)(65,0.4)(80,0.15)(90,0.1)(100,0.6)(110,0.9)(125,0.6)(135,0.35)(145,0.1)(190,0.1)(205,0.8)(215,0.85)(225,0.2)(250,0.1)}
\end{axis}

%================ COLUMN 6 : RIGHT CONTROL
\begin{axis}[emg,rGMAX,at={(1109pt,1046pt)},title={CONTROL}]
\pert
\Gs{(-50,0.95)(-40,0.7)(-30,0.5)(-20,0.35)(-10,0.2)(0,0.15)(10,0.2)(25,0.2)(35,0.3)(42,0.8)(48,0.9)(55,0.7)(65,0.55)(75,0.4)(85,0.25)(100,0.2)(110,0.2)(120,0.8)(125,0.95)(140,0.7)(155,0.5)(170,0.25)(190,0.2)(215,0.2)(230,0.65)(250,0.8)}
\Bs{(-50,0.9)(-40,0.65)(-30,0.5)(-20,0.3)(-10,0.15)(0,0.15)(5,0.25)(12,0.2)(25,0.2)(40,0.25)(50,1.25)(55,0.8)(65,0.6)(80,0.4)(95,0.2)(110,0.2)(120,0.85)(128,0.9)(140,0.7)(155,0.5)(170,0.2)(185,0.15)(225,0.15)(232,0.8)(250,0.8)}
\Rs{(-50,0.85)(-40,0.7)(-30,0.5)(-20,0.3)(-10,0.2)(0,0.15)(5,0.3)(12,0.2)(25,0.2)(40,0.3)(50,0.95)(58,0.75)(68,0.55)(78,0.4)(95,0.2)(110,0.2)(122,0.85)(128,0.9)(140,0.65)(155,0.5)(170,0.2)(220,0.2)(235,0.9)(250,0.95)}
\end{axis}
\begin{axis}[emg,rGMED,at={(1109pt,955pt)}]
\pert
\Gs{(-50,0.95)(-40,0.85)(-30,0.7)(-20,0.55)(-10,0.2)(0,0.15)(10,0.25)(25,0.25)(35,0.3)(42,0.75)(50,0.95)(60,0.8)(75,0.7)(85,0.3)(95,0.2)(110,0.2)(125,0.8)(135,0.85)(150,0.7)(160,0.4)(170,0.2)(220,0.15)(240,0.5)(250,0.8)}
\Bs{(-50,0.7)(-45,0.85)(-35,0.8)(-25,0.6)(-15,0.4)(-5,0.15)(0,0.15)(3,0.6)(8,0.15)(20,0.2)(38,0.2)(50,0.95)(58,0.8)(70,0.65)(85,0.3)(95,0.2)(110,0.2)(125,0.85)(132,0.8)(150,0.65)(160,0.4)(170,0.15)(225,0.15)(240,0.6)(250,0.7)}
\Rs{(-50,0.85)(-40,0.85)(-30,0.75)(-20,0.55)(-12,0.3)(-5,0.15)(0,0.15)(3,0.65)(8,0.25)(20,0.25)(38,0.3)(50,0.95)(58,0.85)(70,0.7)(85,0.3)(95,0.2)(110,0.2)(125,0.85)(135,0.85)(150,0.7)(160,0.4)(170,0.15)(225,0.15)(240,0.6)(250,0.85)}
\end{axis}
\begin{axis}[emg,rST,at={(1109pt,864pt)}]
\pert
\Gs{(-50,0.75)(-40,0.65)(-30,0.7)(-20,0.5)(-10,0.4)(0,0.35)(10,0.4)(25,0.4)(35,0.7)(40,0.95)(50,0.9)(60,0.7)(75,0.6)(90,0.45)(110,0.45)(125,0.8)(140,0.75)(160,0.6)(180,0.45)(200,0.45)(225,0.5)(235,0.9)(250,0.65)}
\Bs{(-50,0.75)(-40,0.55)(-30,0.6)(-20,0.5)(-10,0.45)(0,0.35)(10,0.35)(20,0.4)(30,0.4)(42,0.75)(55,0.65)(70,0.6)(90,0.45)(105,0.4)(115,0.45)(125,1.05)(130,0.7)(145,0.7)(160,0.55)(175,0.45)(195,0.4)(210,0.45)(225,0.6)(235,1.1)(250,0.6)}
\Rs{(-50,0.7)(-40,0.6)(-30,0.6)(-20,0.5)(-10,0.35)(0,0.4)(15,0.4)(30,0.4)(42,0.75)(50,1.1)(60,0.85)(75,0.65)(85,0.45)(100,1.1)(105,0.5)(115,0.5)(125,0.9)(140,0.8)(160,0.6)(180,0.4)(200,0.4)(220,0.5)(235,0.95)(250,0.6)}
\end{axis}
\begin{axis}[emg,rRF,at={(1109pt,773pt)}]
\pert
\Gs{(-50,1.0)(-30,0.95)(-15,0.9)(-5,0.8)(0,0.75)(15,0.7)(30,0.7)(45,0.75)(60,0.85)(80,0.8)(100,0.75)(120,0.7)(140,0.9)(160,0.9)(180,0.8)(200,0.7)(220,0.65)(240,0.75)(250,1.0)}
\Bs{(-50,0.95)(-30,0.9)(-15,0.9)(-5,0.8)(0,0.7)(5,0.8)(8,1.3)(12,0.7)(18,1.3)(23,1.65)(28,1.5)(33,1.7)(38,1.3)(45,0.9)(50,1.1)(60,0.8)(75,0.75)(100,0.7)(120,0.75)(135,1.0)(150,1.05)(160,0.95)(175,0.9)(190,0.75)(220,0.7)(240,0.7)(250,1.15)}
\Rs{(-50,1.0)(-35,0.95)(-20,0.9)(-10,1.0)(-3,0.8)(0,0.7)(5,1.2)(12,3.4)(18,2.0)(22,2.5)(26,2.3)(32,2.6)(40,2.2)(48,1.5)(55,1.3)(62,1.1)(70,1.2)(80,0.9)(100,0.75)(115,0.8)(130,1.0)(140,1.0)(155,0.95)(170,0.8)(200,0.7)(230,0.7)(245,0.85)(250,1.0)}
\end{axis}
\begin{axis}[emg,rGM,at={(1109pt,682pt)}]
\pert
\Gs{(-50,0.15)(-40,0.35)(-30,0.5)(-25,0.7)(-20,1.0)(-15,0.5)(-10,0.3)(0,0.2)(10,0.15)(20,0.1)(40,0.15)(55,0.2)(65,0.35)(80,0.5)(88,0.6)(95,0.3)(105,0.15)(130,0.15)(150,0.2)(165,0.4)(175,0.5)(185,0.85)(195,0.3)(210,0.15)(250,0.2)}
\Bs{(-50,0.2)(-40,0.25)(-30,0.3)(-20,0.6)(-15,0.75)(-8,0.3)(0,0.15)(5,0.2)(10,0.7)(20,0.25)(30,0.15)(45,0.2)(60,0.3)(70,0.4)(80,0.5)(85,0.55)(95,0.3)(105,0.15)(130,0.15)(150,0.25)(170,0.4)(178,0.5)(185,0.8)(195,0.25)(210,0.15)(250,0.15)}
\Rs{(-50,0.2)(-40,0.25)(-30,0.35)(-20,0.6)(-15,0.75)(-8,0.3)(0,0.2)(5,0.3)(12,1.05)(20,0.6)(30,0.55)(45,0.4)(55,0.3)(60,0.4)(65,0.75)(75,0.65)(80,0.7)(88,1.2)(95,0.6)(105,0.2)(130,0.2)(150,0.25)(170,0.4)(178,0.55)(185,0.85)(195,0.3)(210,0.2)(250,0.2)}
\end{axis}
\begin{axis}[emg,rGL,at={(1109pt,591pt)}]
\pert
\Gs{(-50,0.4)(-35,0.55)(-25,0.6)(-15,0.9)(-5,0.5)(10,0.45)(30,0.4)(50,0.45)(60,0.55)(70,0.6)(85,0.8)(95,0.5)(110,0.35)(140,0.4)(160,0.45)(170,0.7)(185,0.9)(195,0.5)(220,0.4)(250,0.45)}
\Bs{(-50,0.4)(-35,0.45)(-25,0.45)(-15,0.8)(-5,0.5)(10,0.45)(30,0.45)(50,0.45)(60,0.5)(70,0.65)(85,0.95)(95,0.5)(110,0.4)(140,0.45)(160,0.5)(170,0.6)(185,0.9)(195,0.45)(220,0.4)(250,0.45)}
\Rs{(-50,0.4)(-35,0.5)(-25,0.6)(-15,0.75)(-5,0.5)(5,0.5)(15,0.6)(25,0.5)(40,0.45)(55,0.5)(65,0.6)(80,0.65)(95,0.55)(110,0.45)(140,0.45)(160,0.5)(175,0.65)(185,0.8)(195,0.5)(220,0.45)(250,0.5)}
\end{axis}
\begin{axis}[emg,rSOL,at={(1109pt,500pt)}]
\pert
\Gs{(-50,0.2)(-40,0.35)(-30,0.55)(-20,0.8)(-15,1.0)(-10,0.7)(-3,0.35)(5,0.25)(15,0.15)(40,0.15)(55,0.3)(70,0.55)(80,0.8)(85,0.9)(92,0.6)(100,0.2)(120,0.15)(140,0.25)(165,0.55)(175,0.75)(185,0.95)(192,0.5)(205,0.15)(230,0.15)(250,0.3)}
\Bs{(-50,0.2)(-40,0.3)(-30,0.5)(-20,0.7)(-15,0.85)(-10,0.6)(-3,0.3)(10,0.2)(20,0.15)(40,0.15)(55,0.3)(70,0.5)(80,0.6)(85,0.7)(95,0.4)(110,0.15)(130,0.15)(150,0.3)(170,0.5)(185,0.8)(195,0.45)(210,0.15)(235,0.15)(250,0.3)}
\Rs{(-50,0.2)(-40,0.35)(-30,0.55)(-20,0.75)(-15,0.85)(-10,0.6)(-3,0.3)(10,0.3)(20,0.3)(40,0.25)(55,0.35)(70,0.6)(80,0.75)(85,0.9)(95,0.55)(110,0.2)(130,0.15)(150,0.3)(170,0.55)(185,0.85)(195,0.4)(210,0.15)(230,0.12)(250,0.3)}
\end{axis}
\begin{axis}[emg,rTA,at={(1109pt,409pt)}]
\pert
\Gs{(-50,0.3)(-40,0.35)(-20,0.3)(0,0.3)(5,0.5)(12,1.0)(20,0.6)(25,0.4)(35,0.8)(48,0.9)(60,0.4)(80,0.2)(95,0.3)(105,1.0)(120,0.7)(135,1.0)(150,0.4)(190,0.2)(205,0.9)(215,0.5)(225,0.3)(237,0.9)(245,0.7)(250,0.4)}
\Bs{(-50,0.3)(-40,0.3)(-20,0.25)(0,0.3)(5,0.6)(10,1.8)(18,1.1)(30,0.9)(45,0.85)(52,1.2)(58,0.4)(70,0.2)(95,0.2)(105,0.9)(120,0.6)(135,1.0)(150,0.4)(190,0.15)(205,0.85)(215,0.5)(225,0.3)(237,0.9)(245,0.6)(250,0.35)}
\Rs{(-50,0.2)(-30,0.2)(-10,0.25)(0,0.3)(5,0.8)(12,2.3)(20,2.0)(30,1.9)(45,2.2)(52,2.1)(60,1.6)(70,1.2)(85,0.8)(95,0.5)(105,1.4)(115,1.0)(125,0.9)(135,1.1)(150,0.6)(165,0.3)(190,0.2)(205,0.95)(215,0.6)(225,0.35)(237,1.0)(245,0.8)(250,0.5)}
\end{axis}

%================ gait phase schematics
\begin{axis}[gait,at={(51pt,357pt)}] \gaitbars \end{axis}
\begin{axis}[gait,at={(259pt,357pt)}] \gaitbars \end{axis}
\begin{axis}[gait,at={(467pt,357pt)}] \gaitbars \end{axis}
\begin{axis}[gait,at={(693pt,357pt)}] \gaitbars \end{axis}
\begin{axis}[gait,at={(901pt,357pt)}] \gaitbars \end{axis}
\begin{axis}[gait,at={(1109pt,357pt)}] \gaitbars \end{axis}

%================ legend
\begin{axis}[at={(607pt,281pt)}, anchor=south west, width=110pt, height=53pt, scale only axis,
  hide axis, xmin=0, xmax=1, ymin=0, ymax=1,
  legend style={at={(0,1)}, anchor=north west, draw=black!55, line width=0.6pt,
    font=\fontsize{8.5}{10}\selectfont, inner xsep=7.5pt, inner ysep=3pt, row sep=1.6pt,
    cells={anchor=west}}]
\addlegendimage{legend image code/.code={\draw[cg, line width=1.8pt] (0pt,0pt) -- (37pt,0pt);}}\addlegendentry{unpert. walking}
\addlegendimage{legend image code/.code={\draw[cb, line width=1.8pt] (0pt,0pt) -- (37pt,0pt);}}\addlegendentry{pert. 60 N}
\addlegendimage{legend image code/.code={\draw[cr, line width=1.8pt] (0pt,0pt) -- (37pt,0pt);}}\addlegendentry{pert. 90 N}
\addlegendimage{legend image code/.code={\fill[cr] (0pt,-4pt) rectangle (37pt,4pt);}}\addlegendentry{pert. interval}
\end{axis}

%================ caption
\begin{scope}[every node/.style={anchor=base west, inner sep=0pt, font=\capfont\fontsize{18.5}{26}\selectfont, text=black!88}]
\capline{250}{1240}{\textbf{Fig. 4} EMG responses following LL-NP/L perturbation. Left box shows responses for the muscles of the left leg (NP/L) while the right box shows}
\capline{224}{1250}{responses for the muscles of the right leg (P/R). The left column in each box shows perturbed muscular activity of the individual post-stroke prior}
\capline{198}{1243}{to the training (experimental condition BEFORE\_60 \textendash{} blue line) along with the unperturbed muscular activity (green line). The middle column in}
\capline{172}{1241}{each box shows perturbed muscular activity of the individual post-stroke after the training (experimental conditions AFTER\_60 \textendash{} blue line and}
\capline{146}{1241}{AFTER\_90 \textendash{} red line) along with the unperturbed muscular activity (green line). The right column in each box shows perturbed muscular activity}
\capline{120}{1237}{of the control participant (experimental conditions CONTROL\_60 \textendash{} blue line and CONTROL\_90 \textendash{} red line) along with the unperturbed muscular}
\capline{94}{1242}{activity (green line). Half of the stride prior to and two and a half strides following the perturbation commencement are shown. Stride is defined}
\capline{68}{1241}{as the period between two consecutive left-foot contacts. The trajectories displayed show mean values and standard deviations of twenty balancing}
\capline{42}{1240}{responses while, for clarity, only the mean values of twenty blocks of three consecutive strides of unperturbed walking are shown. Underneath each}
\capline{16}{1108}{column, six consecutive stance phases of both legs are schematically indicated to enable easier cross-referencing with other figures}
\end{scope}
\end{tikzpicture}
\end{document}
